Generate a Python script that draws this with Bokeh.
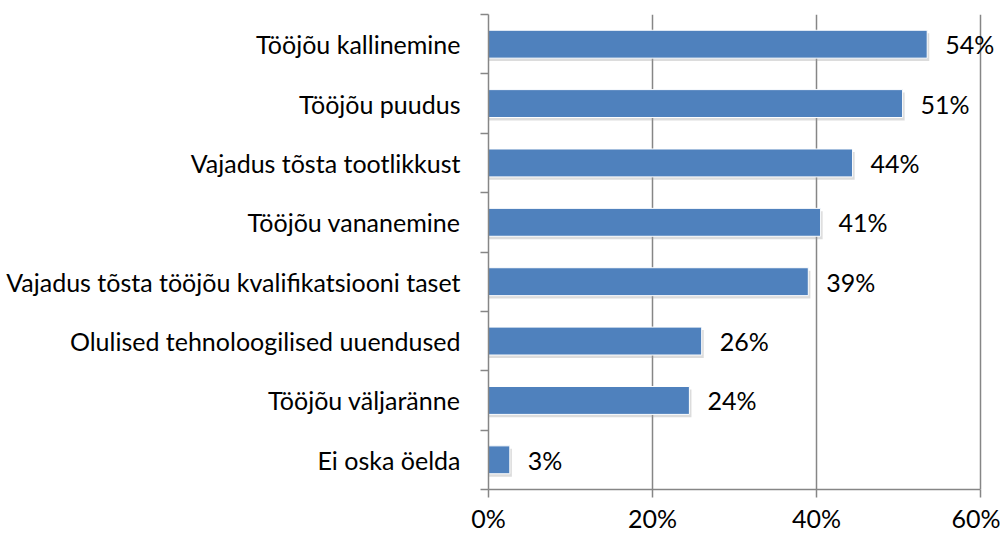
from bokeh.plotting import figure
from bokeh.models import FixedTicker, ColumnDataSource
from bokeh.core.properties import value
from bokeh.embed import file_html
from bokeh.resources import INLINE

categories = [
    "Tööjõu kallinemine",
    "Tööjõu puudus",
    "Vajadus tõsta tootlikkust",
    "Tööjõu vananemine",
    "Vajadus tõsta tööjõu kvalifikatsiooni taset",
    "Olulised tehnoloogilised uuendused",
    "Tööjõu väljaränne",
    "Ei oska öelda",
]
values = [53.5, 50.5, 44.4, 40.5, 39.0, 26.0, 24.5, 2.6]
labels = ["54%", "51%", "44%", "41%", "39%", "26%", "24%", "3%"]
x_ticks = [0, 20, 40, 60]
x_tick_labels = ["0%", "20%", "40%", "60%"]

n = len(categories)
ys = [n - i - 0.5 for i in range(n)]
FONT = "Lato"
FS = "25px"

src = ColumnDataSource(dict(y=ys, v=values, lab=labels, sy=[y - 0.05 for y in ys],
                            sv=[v + 0.25 for v in values]))

W, H = 1000, 535
LEFT, RIGHT, TOP, BOTTOM = 488, 5, 14, 42
x_end = 60 * (W - RIGHT - LEFT) / 492.0

p = figure(width=W, height=H, x_range=(0, x_end), y_range=(0, n),
           output_backend="svg", toolbar_location=None,
           min_border_left=LEFT, min_border_right=RIGHT, min_border_top=TOP,
           min_border_bottom=BOTTOM)
p.outline_line_color = None
p.background_fill_color = "white"

# shadows
p.hbar(y="sy", right="sv", left=0, height=0.47, source=src, fill_color="#9a9a9a",
       fill_alpha=0.35, line_color=None)
p.hbar(y="y", right="v", left=0, height=0.47, source=src, fill_color="#4F81BD",
       line_color="white", line_width=1)
p.text(x="v", y="y", text="lab", source=src, x_offset=18, text_baseline="middle",
       text_align="left", text_font=value(FONT), text_font_size=FS, text_color="#000000")

# axes
p.xaxis.ticker = FixedTicker(ticks=x_ticks)
p.xaxis.bounds = (0, 60)
p.xaxis.major_label_overrides = {t: l for t, l in zip(x_ticks, x_tick_labels)}
p.xaxis.major_tick_in = 0
p.xaxis.major_tick_out = 8
p.xaxis.minor_tick_line_color = None
p.xaxis.axis_line_color = "#868686"
p.xaxis.axis_line_width = 1.5
p.xaxis.major_tick_line_color = "#868686"
p.xaxis.major_tick_line_width = 1.5
p.xaxis.major_label_text_font = FONT
p.xaxis.major_label_text_font_size = FS
p.xaxis.major_label_text_color = "#000000"
p.xaxis.major_label_standoff = 5

p.yaxis.ticker = FixedTicker(ticks=ys, minor_ticks=list(range(n + 1)))
p.yaxis.major_label_overrides = {y: c for y, c in zip(ys, categories)}
p.yaxis.major_tick_in = 0
p.yaxis.major_tick_out = 0
p.yaxis.major_tick_line_color = None
p.yaxis.minor_tick_in = 0
p.yaxis.minor_tick_out = 8
p.yaxis.minor_tick_line_color = "#868686"
p.yaxis.minor_tick_line_width = 1.5
p.yaxis.axis_line_color = "#868686"
p.yaxis.axis_line_width = 1.5
p.yaxis.major_label_text_font = FONT
p.yaxis.major_label_text_font_size = FS
p.yaxis.major_label_text_color = "#000000"
p.yaxis.major_label_standoff = 20

p.ygrid.grid_line_color = None
p.xgrid.ticker = FixedTicker(ticks=[20, 40, 60])
p.xgrid.grid_line_color = "#868686"
p.xgrid.grid_line_width = 1.5

open("out.html", "w").write(file_html(p, INLINE))
